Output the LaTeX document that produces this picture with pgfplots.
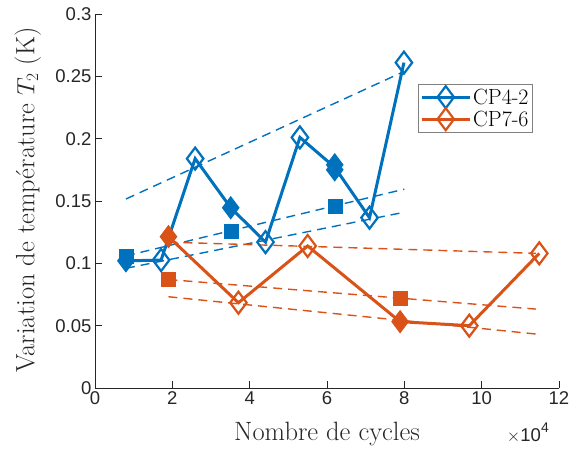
\documentclass[border=0pt]{standalone}
\usepackage{fontspec}
\usepackage{pgfplots}
\pgfplotsset{compat=1.18}
\newfontfamily\arial{Liberation Sans}
\definecolor{mblue}{rgb}{0,0.447,0.741}
\definecolor{morange}{rgb}{0.850,0.325,0.098}
\definecolor{axgray}{rgb}{0.15,0.15,0.15}
\begin{document}
\begin{tikzpicture}
\begin{axis}[
  scale only axis, width=464pt, height=374pt,
  xmin=0, xmax=12, ymin=0, ymax=0.3,
  axis x line*=bottom, axis y line*=left,
  axis line style={axgray, line width=0.8pt},
  tick style={axgray, line width=0.8pt},
  tick align=inside, major tick length=7pt,
  xtick={0,2,4,6,8,10,12}, xticklabels={0,2,4,6,8,10,12},
  ytick={0,0.05,0.1,0.15,0.2,0.25,0.3},
  yticklabels={0,0.05,0.1,0.15,0.2,0.25,0.3},
  ticklabel style={font=\arial\fontsize{18.5}{20}\selectfont, text=axgray},
  xlabel={Nombre de cycles},
  ylabel={Variation de temp\'erature $T_2$ (K)},
  label style={font=\fontsize{26.5}{28}\selectfont, text=axgray},
  xlabel style={at={(axis description cs:0.5,-0.124)}, anchor=center},
  ylabel style={at={(axis description cs:-0.145,0.503)}, anchor=center},
  clip=false,
  legend style={at={(axis description cs:0.696,0.813)}, anchor=north west,
    draw=gray, line width=0.6pt, font=\fontsize{22}{28}\selectfont,
    cells={anchor=west}, inner sep=2pt},
  legend image code/.code={\draw[mark repeat=2,mark phase=2] plot coordinates {(0pt,0pt) (24pt,0pt) (48pt,0pt)};},
]
% legend entries
\addlegendimage{mblue, line width=3pt, mark=diamond, mark size=11pt, mark options={solid, line width=2.2pt, fill=white}}
\addlegendentry{CP4-2}
\addlegendimage{morange, line width=3pt, mark=diamond, mark size=11pt, mark options={solid, line width=2.2pt, fill=white}}
\addlegendentry{CP7-6}
% dashed trend lines, blue
\addplot[mblue, line width=1.4pt, dash pattern=on 9pt off 6pt, forget plot] coordinates {(0.8,0.1516) (8.0,0.254)};
\addplot[mblue, line width=1.4pt, dash pattern=on 9pt off 6pt, forget plot] coordinates {(0.8,0.106) (8.0,0.1595)};
\addplot[mblue, line width=1.4pt, dash pattern=on 9pt off 6pt, forget plot] coordinates {(0.8,0.096) (8.0,0.141)};
% dashed trend lines, orange
\addplot[morange, line width=1.4pt, dash pattern=on 9pt off 6pt, forget plot] coordinates {(1.9,0.117) (11.4,0.108)};
\addplot[morange, line width=1.4pt, dash pattern=on 9pt off 6pt, forget plot] coordinates {(1.9,0.087) (11.4,0.0633)};
\addplot[morange, line width=1.4pt, dash pattern=on 9pt off 6pt, forget plot] coordinates {(1.9,0.0732) (11.4,0.0433)};
% squares
\addplot[only marks, mark=square*, mark size=7pt, mblue, forget plot] coordinates {(0.8,0.106) (3.51,0.126) (6.21,0.1457)};
\addplot[only marks, mark=square*, mark size=7pt, morange, forget plot] coordinates {(1.9,0.0871) (7.89,0.0718)};
% CP4-2 line
\addplot[mblue, line width=3pt, forget plot] coordinates {(0.8,0.102) (1.71,0.1026) (2.59,0.184) (3.51,0.1446) (4.41,0.117) (5.30,0.201) (6.2,0.177) (7.10,0.1366) (7.99,0.261)};
\addplot[only marks, mblue, mark=diamond, mark size=11pt, mark options={line width=2.2pt, fill=white}, forget plot] coordinates {(1.71,0.1026) (2.59,0.184) (4.41,0.117) (5.30,0.201) (7.10,0.1366) (7.99,0.261)};
\addplot[only marks, mblue, mark=diamond*, mark size=11pt, mark options={line width=1pt}, forget plot] coordinates {(0.8,0.102) (3.51,0.1446) (6.2,0.175) (6.2,0.179)};
% CP7-6 line
\addplot[morange, line width=3pt, forget plot] coordinates {(1.9,0.1214) (3.71,0.0684) (5.50,0.1139) (7.89,0.0532) (9.68,0.050) (11.49,0.108)};
\addplot[only marks, morange, mark=diamond, mark size=11pt, mark options={line width=2.2pt, fill=white}, forget plot] coordinates {(3.71,0.0684) (5.50,0.1139) (9.68,0.050) (11.49,0.108)};
\addplot[only marks, morange, mark=diamond*, mark size=11pt, mark options={line width=1pt}, forget plot] coordinates {(1.9,0.1214) (7.89,0.0532)};
\node[anchor=base east, font=\arial\fontsize{18.5}{20}\selectfont, text=axgray, inner sep=0pt] at ([xshift=-10pt,yshift=-54pt]rel axis cs:1,0) {$\times$10\raisebox{0.5em}{\fontsize{14}{14}\selectfont 4}};
\end{axis}
\pgfresetboundingbox
\path (-95pt,-64pt) rectangle (476pt,388pt);
\end{tikzpicture}
\end{document}
